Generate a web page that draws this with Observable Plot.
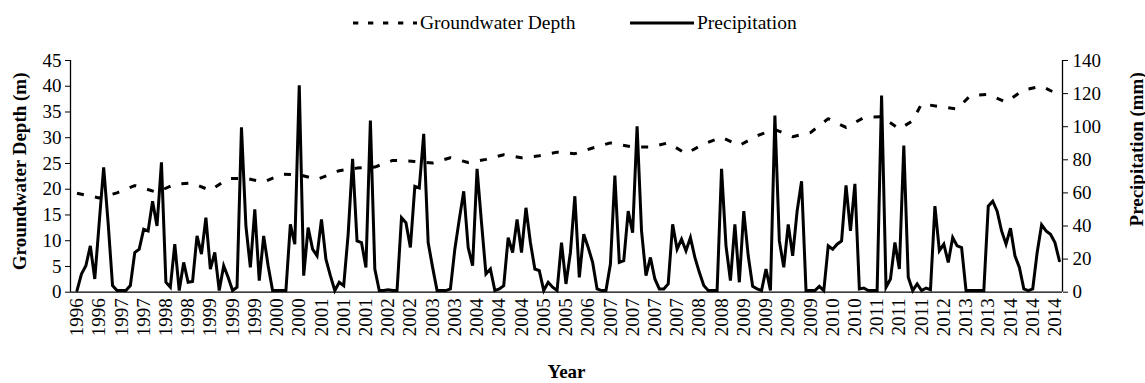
<!DOCTYPE html>
<html><head><meta charset="utf-8">
<script src="https://cdn.jsdelivr.net/npm/d3@7"></script>
<script src="https://cdn.jsdelivr.net/npm/@observablehq/plot@0.6"></script>
<style>
body{margin:0;background:#fff;font-family:"Liberation Serif",serif;}
svg{display:block}
#chart svg, #chart svg text{font-family:"Liberation Serif", serif !important;}
</style></head><body>
<svg id="legend" width="1145" height="40" font-family="Liberation Serif, serif" font-size="19.5">
  <line x1="353" x2="417" y1="23" y2="23" stroke="#000" stroke-width="3" stroke-dasharray="5.3,9.7"/>
  <text x="420" y="29" fill="#000">Groundwater Depth</text>
  <line x1="630" x2="694" y1="23" y2="23" stroke="#000" stroke-width="3"/>
  <text x="697" y="29" fill="#000">Precipitation</text>
</svg>
<div id="chart"></div>
<script>
const xLabels = [1996,1996,1997,1997,1998,1998,1999,1999,1999,2000,2000,2001,2001,2001,2002,2002,2003,2003,2004,2004,2004,2005,2005,2006,2007,2007,2007,2007,2008,2008,2009,2009,2009,2009,2010,2010,2011,2011,2011,2012,2013,2013,2014,2014,2014];

const precipitation = [1,11,16,28,8,42,75.5,42,4,1,1,1,4,24,26,38,37,55,40,78.5,
6,3,29,1,18,6,6.5,34,23,45,14,24,1,16,9,1,3,99.7,40,15,
50,7,34,16,1,1,1,1,41,29,125,10,39,26,22,44,20,10,1,6,
4,35,80.6,31,30,15,103.7,14,1,1,1.5,1,1,45,42,27,64,63,95.7,30,
15,1,1,1,2,26,44,61,27,16,74.5,42,11,14,1,2,4,33,24,44,
24,51,30,14,13,1,6,3,1,30,5,24,58,9,35,27,18,2,1,1,
17,70.5,18,19,49,36,100.3,37,10,21,8,2,2,5,41,26,32,25,33,21,
12,4,1,1,1,74.5,28,7,41,6,49,22,3.5,2,1,14,1,106.7,31,15,
41,22,49,67,1,1,1,3.5,1,28,26,29,31,64.5,37,65.5,2,2.5,1,1,
1,118.8,3,8,30,14,88.6,9,1,5,1,2.5,1.5,52,25,29,18,33,28,27,
1,1,1,1,1,52,55,49,37,29,38.7,22,15,2,1,2,24,40.7,37,35,
30,19];

const gwIndex = [0,5,9,13,18,22,26,30,34,38,42,46,50,54,59,63,67,71,76,80,84,88,92,96,100,104,108,112,116,120,125,129,133,137,141,145,149,153,157,161,165,169,173,177,181,185,188,190,195,198,201,205,209,213,217,221];
const gwDepth = [19.2,18.3,19.3,20.7,19.4,21.0,21.2,19.75,22.1,22.1,21.4,22.9,22.8,21.9,23.6,24.1,24.3,25.6,25.4,25.1,26.1,25.2,25.8,26.7,26.1,26.5,27.2,26.9,28.0,29.0,28.2,28.2,29.0,26.9,28.8,30.1,28.5,30.4,31.6,30.2,31.0,33.7,32.0,33.9,34.1,31.7,33.3,36.6,35.9,35.6,38.2,38.4,36.9,39.3,40.0,38.3];

const leftTicks = [0,5,10,15,20,25,30,35,40,45];
const rightTicks = [0,20,40,60,80,100,120,140];

const k = 45/140;
const precipData = precipitation.map((v,i)=>({i, v: v*k}));
const gwData = gwIndex.map((i,j)=>({i, v: gwDepth[j]}));
const tickIdx = xLabels.map((_,j)=>j*5);
const xDom = [-1.46, 221.7];

const chart = Plot.plot({
  width: 1145, height: 343,
  marginLeft: 70, marginRight: 83, marginTop: 20, marginBottom: 91.3,
  style: {fontFamily: '"Liberation Serif", serif', fontSize: "19px", color: "#000", background: "#fff", overflow: "visible"},
  x: {domain: xDom, axis: null},
  y: {domain: [0,45], axis: null},
  marks: [
    Plot.axisY(leftTicks, {anchor: "left", tickSize: 5, tickPadding: 4, label: null}),
    Plot.axisY(rightTicks.map(v=>v*k), {anchor: "right", tickSize: 5, tickPadding: 5, label: null, tickFormat: d => String(Math.round(d/k))}),
    Plot.axisX(tickIdx, {anchor: "bottom", tickSize: 0, tickPadding: 6, tickRotate: -90, label: null, tickFormat: (d,j) => String(xLabels[j])}),
    Plot.ruleX(xDom, {stroke: "#000", strokeWidth: 1.3}),
    Plot.ruleY([0], {stroke: "#000", strokeWidth: 1.3}),
    Plot.line(gwData, {x: "i", y: "v", stroke: "#000", strokeWidth: 3, strokeDasharray: "7,11.3", strokeLinecap: "butt"}),
    Plot.line(precipData, {x: "i", y: "v", stroke: "#000", strokeWidth: 3, strokeLinejoin: "miter", strokeMiterlimit: 4}),
    Plot.text(["Year"], {text: d=>d, frameAnchor: "bottom", dy: 86, fontWeight: "bold", textAnchor: "middle"}),
    Plot.text(["Groundwater Depth (m)"], {text: d=>d, frameAnchor: "left", textAnchor: "middle", dx: -50.3, dy: -5, rotate: -90, fontWeight: "bold"}),
    Plot.text(["Precipitation (mm)"], {text: d=>d, frameAnchor: "right", textAnchor: "middle", dx: 74.5, dy: -27, rotate: -90, fontWeight: "bold"})
  ]
});
document.getElementById("chart").appendChild(chart);
</script>
</body></html>
